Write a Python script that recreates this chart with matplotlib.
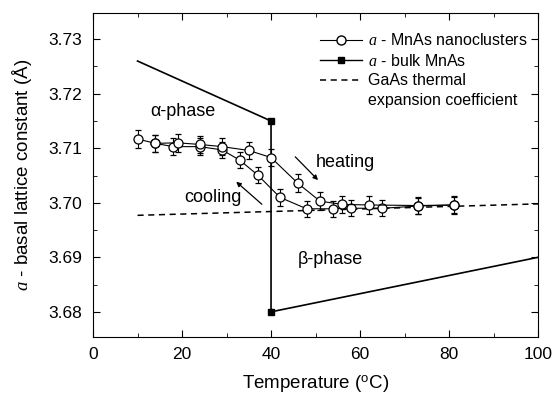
import matplotlib
matplotlib.use("Agg")
import matplotlib.pyplot as plt
from matplotlib.ticker import MultipleLocator

plt.rcParams['font.family'] = ['Liberation Sans', 'DejaVu Sans']
plt.rcParams['mathtext.fontset'] = 'custom'
plt.rcParams['mathtext.rm'] = 'Liberation Sans'
plt.rcParams['mathtext.it'] = 'Liberation Serif:italic'

# Nanoclusters - heating branch
heat_T = [10, 14, 19, 24, 29, 35, 40, 46, 51, 56, 62, 73, 81]
heat_a = [3.7117, 3.7109, 3.7110, 3.7107, 3.7103, 3.7096, 3.7083, 3.7036,
          3.7003, 3.6997, 3.6996, 3.6995, 3.6996]
heat_err = [0.0016] * len(heat_T)
# Nanoclusters - cooling branch
cool_T = [81, 73, 65, 58, 54, 48, 42, 37, 33, 29, 24, 18, 14]
cool_a = [3.6996, 3.6994, 3.6990, 3.6990, 3.6989, 3.6989, 3.7010, 3.7051,
          3.7078, 3.7097, 3.7103, 3.7103, 3.7109]
cool_err = [0.0015] * len(cool_T)
# Bulk MnAs
bulk_T = [10, 40, 40, 100]
bulk_a = [3.726, 3.715, 3.680, 3.690]
# GaAs thermal expansion
gaas_T = [10, 100]
gaas_a = [3.6977, 3.6998]

fig = plt.figure(figsize=(5.57, 3.95), dpi=100)
ax = fig.add_axes([0.167, 0.147, 0.799, 0.820])

ax.errorbar(cool_T, cool_a, yerr=cool_err, fmt='-o', color='black', lw=0.8,
            mfc='white', mec='black', ms=6.5, mew=0.9, capsize=2.5,
            elinewidth=0.8, capthick=0.8)
ax.errorbar(heat_T, heat_a, yerr=heat_err, fmt='-o', color='black', lw=0.8,
            mfc='white', mec='black', ms=6.5, mew=0.9, capsize=2.5,
            elinewidth=0.8, capthick=0.8)
ax.plot(gaas_T, gaas_a, '--', color='black', lw=1.1, dashes=(4, 3))
ax.plot(bulk_T, bulk_a, '-', color='black', lw=1.2, marker='s', ms=5,
        markevery=[1, 2], mfc='black', mec='black')

# legend handles
h1, = ax.plot([], [], '-o', color='black', lw=0.8, mfc='white', mec='black', ms=6.5)
h2, = ax.plot([], [], '-s', color='black', lw=1.0, mfc='black', ms=5)
h3, = ax.plot([], [], '--', color='black', lw=1.1, dashes=(4, 3))
h4, = ax.plot([], [], ' ')
ax.legend([h1, h2, h3, h4],
          [r'$a$ - MnAs nanoclusters', r'$a$ - bulk MnAs',
           'GaAs thermal', 'expansion coefficient'],
          loc='upper right', bbox_to_anchor=(0.99, 0.96), frameon=False,
          fontsize=11.5, handlelength=2.6,
          handletextpad=0.35, labelspacing=0.28, borderaxespad=0.0)

ax.text(20.3, 3.7167, 'α-phase', ha='center', va='center', fontsize=13)
ax.text(53.4, 3.6896, 'β-phase', ha='center', va='center', fontsize=13)
ax.text(27, 3.7010, 'cooling', ha='center', va='center', fontsize=13)
ax.text(56.6, 3.7073, 'heating', ha='center', va='center', fontsize=13)
ax.annotate('', xy=(51, 3.7038), xytext=(45, 3.7088),
            arrowprops=dict(arrowstyle='-|>', color='black', lw=0.9,
                            mutation_scale=7))
ax.annotate('', xy=(31.7, 3.7042), xytext=(38.4, 3.6994),
            arrowprops=dict(arrowstyle='-|>', color='black', lw=0.9,
                            mutation_scale=7))

ax.set_xlim(0, 100)
ax.set_ylim(3.6754, 3.7348)
ax.xaxis.set_major_locator(MultipleLocator(20))
ax.xaxis.set_minor_locator(MultipleLocator(10))
ax.yaxis.set_major_locator(MultipleLocator(0.01))
ax.yaxis.set_minor_locator(MultipleLocator(0.005))
ax.yaxis.set_major_formatter(plt.FormatStrFormatter('%.2f'))
ax.tick_params(which='both', direction='in', top=True, right=True,
               labelsize=12.5)
ax.tick_params(axis='x', pad=7)
ax.tick_params(axis='y', pad=8)
ax.tick_params(which='major', length=5)
ax.tick_params(which='minor', length=3)
ax.set_xlabel(r'Temperature ($^{\mathrm{o}}$C)', fontsize=13.5, labelpad=9)
ax.set_ylabel(r'$a$ - basal lattice constant (Å)', fontsize=13.5, labelpad=10)

fig.savefig('out.png', dpi=100)
